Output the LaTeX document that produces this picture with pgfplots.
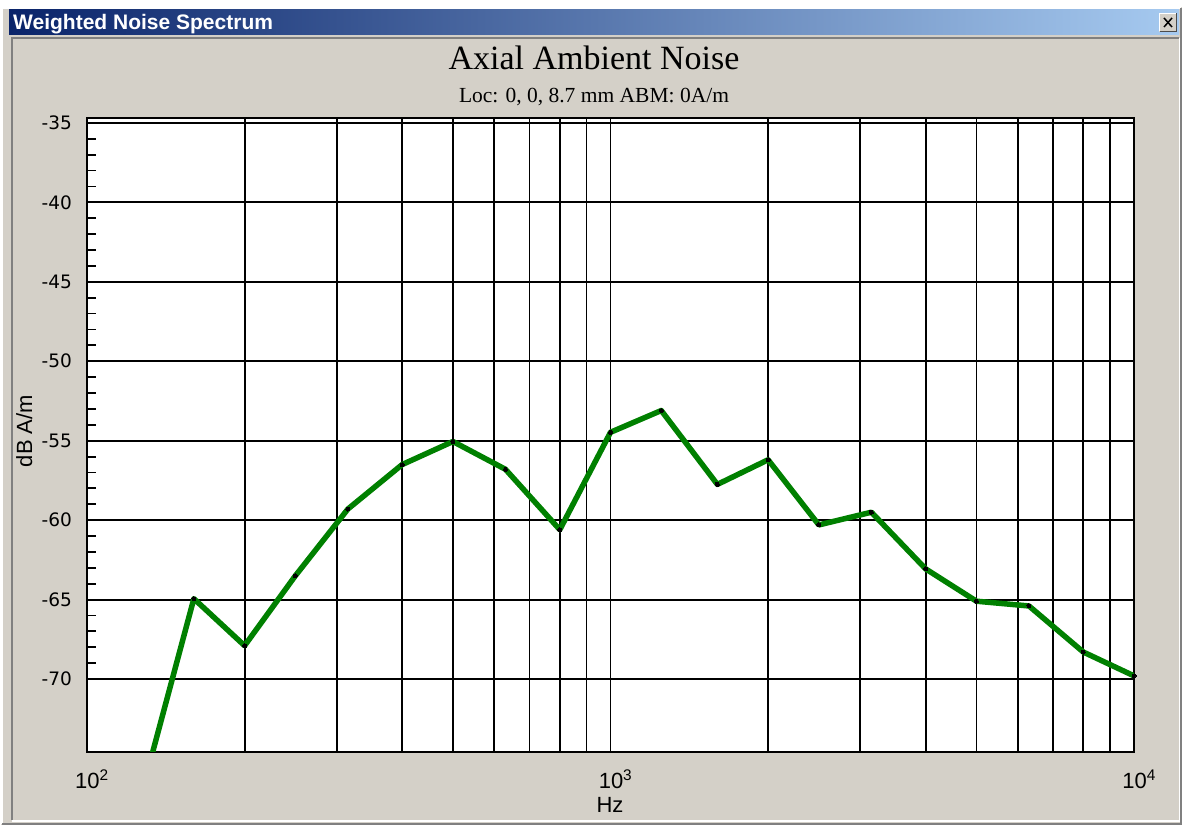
\documentclass[border=0pt]{standalone}
\usepackage{pgfplots}
\pgfplotsset{compat=1.18}
\usepackage{fontspec}
\setmainfont{Liberation Sans}
\newfontfamily\serifface{Liberation Serif}
\newfontfamily\tickface{DejaVu Sans}
\definecolor{winbg}{HTML}{D4D0C8}
\definecolor{titleL}{HTML}{0A246A}
\definecolor{titleR}{HTML}{A6CAF0}
\definecolor{linegreen}{RGB}{0,128,0}
\definecolor{darkedge}{HTML}{808080}

\pgfplotstableread{
f      v
125    -78.1
160    -64.94
200    -67.9
250    -63.5
315    -59.3
400    -56.5
500    -55.05
630    -56.8
800    -60.6
1000   -54.47
1250   -53.1
1600   -57.75
2000   -56.2
2500   -60.3
3150   -59.5
4000   -63.07
5000   -65.1
6300   -65.4
8000   -68.3
10000  -69.8
}\noisedata

\begin{document}
\begin{tikzpicture}[x=1pt,y=1pt]
% window background
\fill[white] (0,0) rectangle (1183,826);
\fill[winbg] (1,1) rectangle (1182,819);
\draw[white, line width=1.5] (2,2) -- (2,818) -- (1181,818);
\draw[darkedge, line width=1.5] (2,2) -- (1181,2) -- (1181,818);
% title bar
\shade[left color=titleL, right color=titleR] (9,791) rectangle (1179,816);
\node[anchor=base west, text=white, inner sep=0pt, font=\fontsize{21}{21}\bfseries\selectfont] at (13,796) {Weighted Noise Spectrum};
% close button
\fill[winbg] (1159,794) rectangle (1177,813);
\draw[white, line width=1] (1159.5,794.5) -- (1159.5,812.5) -- (1176.5,812.5);
\draw[black!70, line width=1] (1159.5,794.5) -- (1176.5,794.5) -- (1176.5,812.5);
\draw[black, line width=1.5] (1164,799) -- (1172,808) (1164,808) -- (1172,799);
% sunken content panel
\draw[darkedge, line width=2] (12,6) -- (12,788) -- (1179,788);
\draw[white, line width=1.5] (12,5) -- (1179.5,5) -- (1179.5,788);

\begin{axis}[
  at={(87pt,74pt)}, anchor=south west,
  width=1047pt, height=634pt, scale only axis,
  xmode=log, xmin=100, xmax=10000,
  ymin=-74.59, ymax=-34.69,
  axis background/.style={fill=white},
  axis line style={line width=1.8pt, black},
  grid style={line width=1.8pt, black},
  major grid style={line width=1.8pt, black},
  minor grid style={line width=1.8pt, black},
  xmajorgrids, xminorgrids, ymajorgrids,
  ytick={-70,-65,-60,-55,-50,-45,-40,-35},
  yticklabels={-70,-65,-60,-55,-50,-45,-40,-35},
  minor y tick num=4,
  xtick={100,1000,10000},
  xticklabels={10\textsuperscript{2},10\textsuperscript{3},10\textsuperscript{4}},
  tick align=inside,
  xtick pos=left, ytick pos=left,
  major tick length=0pt, minor tick length=9pt,
  tick style={black, line width=1.8pt},
  yticklabel style={anchor=east, inner sep=0pt, xshift=-15pt, font=\tickface\fontsize{18.5}{18.5}\selectfont},
  xticklabel style={anchor=north, inner sep=0pt, yshift=-18pt, xshift=5pt, font=\fontsize{22}{22}\selectfont},
]
\addplot[color=linegreen, line width=5.5pt, line join=round,
  mark=*, mark size=2pt, mark options={fill=black, draw=black, line width=0pt}]
  table[x=f, y=v] {\noisedata};
\pgfplotsinvokeforeach{-70,-65,-60,-55,-50,-45,-40,-35}{
  \draw[black, line width=1.8pt] (axis cs:100,#1) -- ++(-10pt,0pt);
}
\pgfplotsinvokeforeach{100,1000,10000}{
  \draw[black, line width=1.8pt] (axis cs:#1,-74.59) -- ++(0pt,-15pt);
}
\end{axis}

% titles and axis labels
\node[anchor=base, inner sep=0pt, font=\serifface\fontsize{34}{34}\selectfont] at (594,756) {Axial Ambient Noise};
\node[anchor=base, inner sep=0pt, font=\serifface\fontsize{21.5}{21.5}\selectfont] at (594,723) {Loc: 0, 0, 8.7 mm ABM: 0A/m};
\node[anchor=base, inner sep=0pt, font=\fontsize{22}{22}\selectfont] at (610,13) {Hz};
\node[anchor=base, inner sep=0pt, rotate=90, font=\fontsize{22}{22}\selectfont] at (32,395) {dB A/m};
\end{tikzpicture}
\end{document}
